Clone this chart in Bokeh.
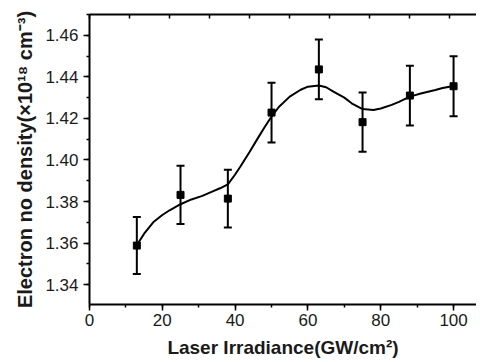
from bokeh.plotting import figure
from bokeh.models import (Range1d, LinearAxis, SingleIntervalTicker, FixedTicker,
                          Whisker, TeeHead, ColumnDataSource, PrintfTickFormatter)
from bokeh.embed import file_html
from bokeh.resources import INLINE

# ---- data ----
irradiance = [13, 25, 38, 50, 63, 75, 88, 100]
density = [1.3588, 1.3832, 1.3814, 1.4228, 1.4436, 1.4182, 1.4310, 1.4355]
error = [0.0137, 0.0140, 0.0139, 0.0144, 0.0144, 0.0143, 0.0144, 0.0144]

curve_x = [13, 15, 17.5, 20, 22, 25, 28, 31, 34, 36, 38, 40, 41.5, 44, 46, 48, 50, 52,
           55, 58, 60, 63, 65, 67, 70, 72, 75, 78, 80, 83, 85, 88, 91, 95, 97, 100]
curve_y = [1.3590, 1.3645, 1.3700, 1.3735, 1.3758, 1.3787, 1.3810, 1.3827, 1.3850,
           1.3865, 1.3883, 1.3930, 1.3970, 1.4040, 1.4098, 1.4155, 1.4209, 1.4255,
           1.4305, 1.4338, 1.4353, 1.4358, 1.4350, 1.4329, 1.4300, 1.4273, 1.4245,
           1.4241, 1.4248, 1.4265, 1.4280, 1.4305, 1.4320, 1.4337, 1.4346, 1.4356]

x_ticks_top = [0, 11, 22, 33, 44, 55, 66, 77, 88, 99]

x_title = "Laser Irradiance(GW/cm\u00b2)"
y_title = "Electron no density(\u00d710\u00b9\u2078 cm\u207b\u00b3)"

FONT = "Liberation Sans"
TXT = "#1a1a1a"

p = figure(width=476, height=360, output_backend="svg", toolbar_location=None,
           x_range=Range1d(0, 106.3), y_range=Range1d(1.33044, 1.47002),
           min_border_left=89, min_border_right=0, min_border_top=14, min_border_bottom=54)
p.outline_line_color = None
p.xgrid.visible = False
p.ygrid.visible = False

# axes
xa = p.xaxis[0]
xa.ticker = SingleIntervalTicker(interval=20, num_minor_ticks=2)
ya = p.yaxis[0]
ya.ticker = SingleIntervalTicker(interval=0.02, num_minor_ticks=2)
ya.formatter = PrintfTickFormatter(format="%.2f")
for ax in (xa, ya):
    ax.axis_line_width = 2
    ax.axis_line_color = "black"
    ax.major_tick_line_width = 1.5
    ax.minor_tick_line_width = 1.5
    ax.major_tick_line_color = "black"
    ax.minor_tick_line_color = "black"
    ax.major_tick_in = 0
    ax.major_tick_out = 6
    ax.minor_tick_in = 0
    ax.minor_tick_out = 3
    ax.major_label_text_font = FONT
    ax.major_label_text_font_size = "17px"
    ax.major_label_text_color = TXT
    ax.axis_label_text_font = FONT
    ax.axis_label_text_font_style = "bold"
    ax.axis_label_text_color = TXT
xa.major_label_standoff = 3
ya.major_label_standoff = 5
xa.axis_label = x_title
xa.axis_label_text_font_size = "19px"
xa.axis_label_standoff = 8
ya.axis_label = y_title
ya.axis_label_text_font_size = "20px"
ya.axis_label_standoff = 6

top = LinearAxis(ticker=FixedTicker(ticks=x_ticks_top, minor_ticks=[]),
                 major_label_overrides={t: "" for t in x_ticks_top},
                 major_label_standoff=0,
                 major_tick_in=4, major_tick_out=0, minor_tick_in=0, minor_tick_out=0,
                 axis_line_width=2, major_tick_line_width=1.5)
p.add_layout(top, "above")

# fitted curve
p.line(curve_x, curve_y, line_color="black", line_width=2)

# error bars
src = ColumnDataSource(dict(
    x=irradiance, y=density,
    upper=[d + e for d, e in zip(density, error)],
    lower=[d - e for d, e in zip(density, error)]))
w = Whisker(base="x", upper="upper", lower="lower", source=src, dimension="height",
            line_width=2, line_color="black",
            upper_head=TeeHead(size=8, line_width=2, line_color="black"),
            lower_head=TeeHead(size=8, line_width=2, line_color="black"))
p.add_layout(w)
p.scatter("x", "y", source=src, marker="square", size=7, fill_color="black",
          line_color="black")

open("out.html", "w").write(file_html(p, INLINE))
